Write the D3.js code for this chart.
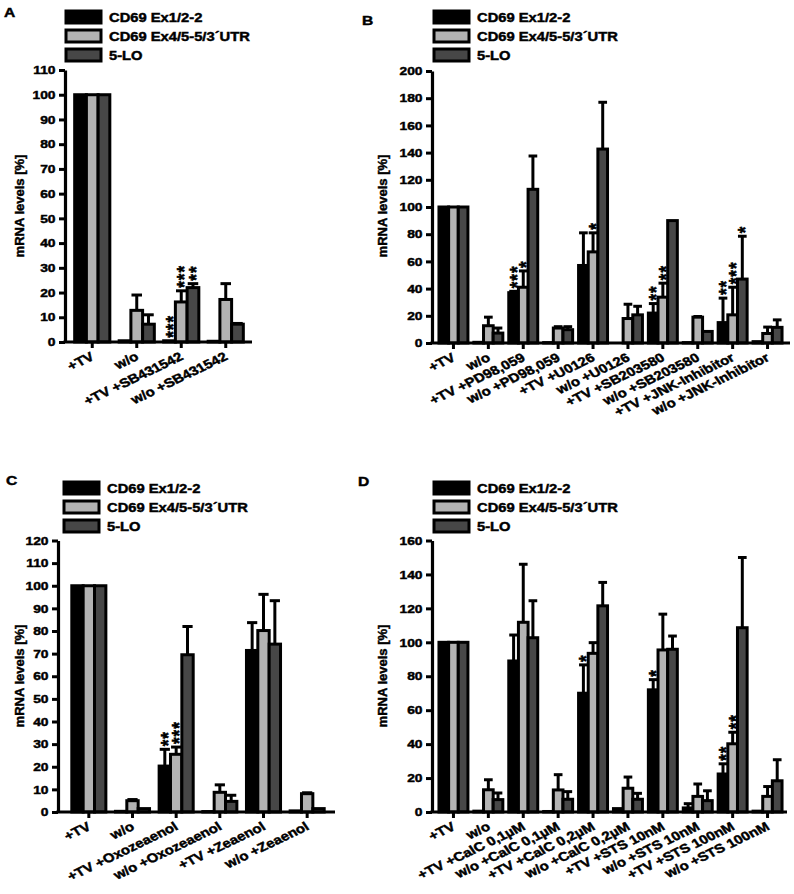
<!DOCTYPE html>
<html><head><meta charset="utf-8">
<script src="https://cdn.jsdelivr.net/npm/d3@7"></script>
<style>
body{margin:0;background:#fff}
text{font-family:"Liberation Sans",Arial,Helvetica,sans-serif;font-weight:bold;fill:#000;stroke:#000;stroke-width:0.45px}
</style>
</head><body>
<svg id="chart" width="794" height="894"></svg>
<script>
// ---------- DATA ----------
const seriesNames = ["CD69 Ex1/2-2", "CD69 Ex4/5-5/3\u00B4UTR", "5-LO"];
const seriesColors = ["#000000", "#b3b3b3", "#474747"];

// Panel A
const catsA = ["+TV", "w/o", "+TV +SB431542", "w/o +SB431542"];
const ticksA = [0, 10, 20, 30, 40, 50, 60, 70, 80, 90, 100, 110];
const ex12A = [100, 0.5, 0.5, 0.3];
const ex12SdA = [0, 0, 0, 0];
const ex45A = [100, 12.8, 16.2, 17.2];
const ex45SdA = [0, 6.2, 4.5, 6.4];
const loA = [100, 7.2, 22, 7.2];
const loSdA = [0, 3.8, 1.6, 0.3];
const ex12StarsA = ["", "", "***", ""];
const ex45StarsA = ["", "", "***", ""];
const loStarsA = ["", "", "**", ""];

// Panel B
const catsB = ["+TV", "w/o", "+TV +PD98,059", "w/o +PD98,059", "+TV +U0126", "w/o +U0126",
  "+TV +SB203580", "w/o +SB203580", "+TV +JNK-Inhibitor", "w/o +JNK-Inhibitor"];
const ticksB = [0, 20, 40, 60, 80, 100, 120, 140, 160, 180, 200];
const ex12B = [100, 0.5, 37, 0.3, 57, 0, 22, 0.3, 15, 1];
const ex12SdB = [0, 0, 1, 0, 24, 0, 7, 0, 18, 0];
const ex45B = [100, 12.7, 41, 11, 67, 18, 33.7, 19, 20.7, 7];
const ex45SdB = [0, 6.3, 12, 1, 14, 10.5, 10.3, 0.5, 20.3, 4.7];
const loB = [100, 7.3, 113, 9.8, 142.6, 20.7, 90, 8.5, 47, 11.5];
const loSdB = [0, 3.7, 24.5, 2.2, 34.4, 6.3, 0, 0, 31.5, 5.5];
const ex12StarsB = ["", "", "***", "", "", "", "**", "", "**", ""];
const ex45StarsB = ["", "", "*", "", "*", "", "**", "", "***", ""];
const loStarsB = ["", "", "", "", "", "", "", "", "*", ""];

// Panel C
const catsC = ["+TV", "w/o", "+TV +Oxozeaenol", "w/o +Oxozeaenol", "+TV +Zeaenol", "w/o +Zeaenol"];
const ticksC = [0, 10, 20, 30, 40, 50, 60, 70, 80, 90, 100, 110, 120];
const ex12C = [100, 0.3, 20.3, 0.2, 71.4, 0.5];
const ex12SdC = [0, 0, 7.4, 0, 12.3, 0];
const ex45C = [100, 5, 25.5, 8.7, 80.2, 8.1];
const ex45SdC = [0, 0.5, 3.2, 3.3, 16, 0.4];
const loC = [100, 1.5, 69.5, 4.7, 74.2, 1.5];
const loSdC = [0, 0, 12.5, 2.7, 19.2, 0];
const ex12StarsC = ["", "", "**", "", "", ""];
const ex45StarsC = ["", "", "***", "", "", ""];
const loStarsC = ["", "", "", "", "", ""];

// Panel D
const catsD = ["+TV", "w/o", "+TV +CalC 0,1\u00B5M", "w/o +CalC 0,1\u00B5M", "+TV +CalC 0,2\u00B5M",
  "w/o +CalC 0,2\u00B5M", "+TV +STS 10nM", "w/o +STS 10nM", "+TV +STS 100nM", "w/o +STS 100nM"];
const ticksD = [0, 20, 40, 60, 80, 100, 120, 140, 160];
const ex12D = [100, 0.5, 89, 0.3, 70, 2, 72, 2.4, 22.4, 0.5];
const ex12SdD = [0, 0, 15.3, 0, 16.7, 0, 6, 2.5, 6, 0];
const ex45D = [100, 13.1, 111.8, 13, 93.5, 14, 95.5, 9.2, 40.2, 9.2];
const ex45SdD = [0, 5.9, 34.2, 9, 6.3, 6.6, 21.1, 7.3, 6.8, 5.8];
const loD = [100, 7.3, 102.7, 7.5, 121.5, 7.5, 95.9, 6.7, 108.6, 18.4];
const loSdD = [0, 3.9, 21.8, 4.5, 13.8, 3.5, 7.8, 5.8, 41.4, 12.4];
const ex12StarsD = ["", "", "", "", "*", "", "*", "", "**", ""];
const ex45StarsD = ["", "", "", "", "", "", "", "", "**", ""];
const loStarsD = ["", "", "", "", "", "", "", "", "", ""];

const yTitle = "mRNA levels [%]";

// ---------- DRAW ----------
const svg = d3.select("#chart");
const SX = 1.2; // horizontal stretch of text in the reference

function panel(o) {
  const g = svg.append("g");
  const x = d3.scaleBand().domain(o.cats).range(o.xr).paddingInner(o.pad).paddingOuter(o.pad / 2);
  const xs = d3.scaleBand().domain([0, 1, 2]).range([0, x.bandwidth()]);
  const y = d3.scaleLinear().domain([0, o.ymax]).range(o.yr);
  const y0 = y(0);
  const bw = xs.bandwidth();

  // bars
  o.series.forEach((s, si) => {
    g.append("g").selectAll("rect").data(s.vals).join("rect")
      .attr("x", (d, i) => x(o.cats[i]) + xs(si))
      .attr("width", bw)
      .attr("y", d => y(d))
      .attr("height", d => y0 - y(d))
      .attr("fill", seriesColors[si])
      .attr("stroke", "#000").attr("stroke-width", 3);
  });
  // error bars
  o.series.forEach((s, si) => {
    const eg = g.append("g").attr("stroke", "#000").attr("stroke-width", 3);
    s.vals.forEach((v, i) => {
      const sd = s.sd[i];
      if (sd <= 0) return;
      const cx = x(o.cats[i]) + xs(si) + bw / 2;
      eg.append("line").attr("x1", cx).attr("x2", cx).attr("y1", y(v)).attr("y2", y(v + sd));
      eg.append("line").attr("x1", cx - bw * 0.45).attr("x2", cx + bw * 0.45)
        .attr("y1", y(v + sd)).attr("y2", y(v + sd));
    });
  });
  // stars
  o.series.forEach((s, si) => {
    s.stars.forEach((st, i) => {
      if (!st) return;
      const cx = x(o.cats[i]) + xs(si) + bw / 2;
      const top = y(s.vals[i] + s.sd[i]) - 3;
      g.append("text").text(st)
        .attr("transform", `translate(${cx + 10},${top}) scale(1.15,1) rotate(-90)`)
        .attr("text-anchor", "start")
        .attr("font-size", 17).attr("letter-spacing", 1);
    });
  });

  // y axis
  const ya = g.append("g").attr("transform", `translate(${o.ax},0)`)
    .call(d3.axisLeft(y).tickValues(o.ticks).tickSize(6).tickSizeOuter(0));
  ya.select(".domain").attr("stroke-width", 3.2);
  ya.selectAll(".tick line").attr("stroke-width", 3);
  ya.selectAll(".tick text").attr("font-size", 11.5).attr("font-family", null)
    .attr("x", -9.5 / SX).attr("transform", `scale(${SX},1)`);

  // x axis
  g.append("line").attr("x1", o.ax - 1.6).attr("x2", o.xend).attr("y1", y0).attr("y2", y0)
    .attr("stroke", "#000").attr("stroke-width", 3.2);
  o.cats.forEach(c => {
    const cx = x(c) + x.bandwidth() / 2;
    g.append("line").attr("x1", cx).attr("x2", cx).attr("y1", y0).attr("y2", y0 + 6)
      .attr("stroke", "#000").attr("stroke-width", 3);
    g.append("text").text(c)
      .attr("transform", `translate(${cx + 3},${y0 + 17}) scale(${SX},1) rotate(-30)`)
      .attr("text-anchor", "end").attr("font-size", 12.5);
  });

  // y title
  g.append("text").text(yTitle)
    .attr("transform", `translate(${o.tx},${o.ty}) rotate(-90)`)
    .attr("text-anchor", "middle").attr("font-size", 13);

  // panel letter
  g.append("text").text(o.letter)
    .attr("transform", `translate(${o.px},${o.py}) scale(${SX},1)`)
    .attr("font-size", 13);

  // legend
  seriesNames.forEach((n, i) => {
    g.append("rect").attr("x", o.lx).attr("y", o.ly + i * 19).attr("width", 35).attr("height", 12)
      .attr("fill", seriesColors[i]).attr("stroke", "#000").attr("stroke-width", 3);
    g.append("text").text(n)
      .attr("transform", `translate(${o.lx + 43},${o.ly + i * 19 + 11}) scale(1.18,1)`)
      .attr("font-size", 12.5);
  });
}

panel({
  letter: "A", px: 4, py: 17, lx: 66, ly: 11, tx: 24, ty: 206,
  cats: catsA, ticks: ticksA, ymax: 110, yr: [342, 70], xr: [70, 248], pad: 0.21, ax: 65, xend: 252,
  series: [
    { vals: ex12A, sd: ex12SdA, stars: ex12StarsA },
    { vals: ex45A, sd: ex45SdA, stars: ex45StarsA },
    { vals: loA, sd: loSdA, stars: loStarsA }
  ]
});
panel({
  letter: "B", px: 362, py: 25, lx: 434, ly: 11, tx: 387, ty: 206,
  cats: catsB, ticks: ticksB, ymax: 200, yr: [343, 71], xr: [436, 785], pad: 0.17, ax: 432, xend: 790,
  series: [
    { vals: ex12B, sd: ex12SdB, stars: ex12StarsB },
    { vals: ex45B, sd: ex45SdB, stars: ex45StarsB },
    { vals: loB, sd: loSdB, stars: loStarsB }
  ]
});
panel({
  letter: "C", px: 6, py: 485, lx: 64, ly: 482, tx: 24, ty: 676,
  cats: catsC, ticks: ticksC, ymax: 120, yr: [812, 540.5], xr: [67, 329], pad: 0.22, ax: 58, xend: 335,
  series: [
    { vals: ex12C, sd: ex12SdC, stars: ex12StarsC },
    { vals: ex45C, sd: ex45SdC, stars: ex45StarsC },
    { vals: loC, sd: loSdC, stars: loStarsC }
  ]
});
panel({
  letter: "D", px: 358, py: 486, lx: 434, ly: 482, tx: 387, ty: 676,
  cats: catsD, ticks: ticksD, ymax: 160, yr: [812, 540.5], xr: [436, 785], pad: 0.17, ax: 432, xend: 787,
  series: [
    { vals: ex12D, sd: ex12SdD, stars: ex12StarsD },
    { vals: ex45D, sd: ex45SdD, stars: ex45StarsD },
    { vals: loD, sd: loSdD, stars: loStarsD }
  ]
});
</script>
</body></html>
